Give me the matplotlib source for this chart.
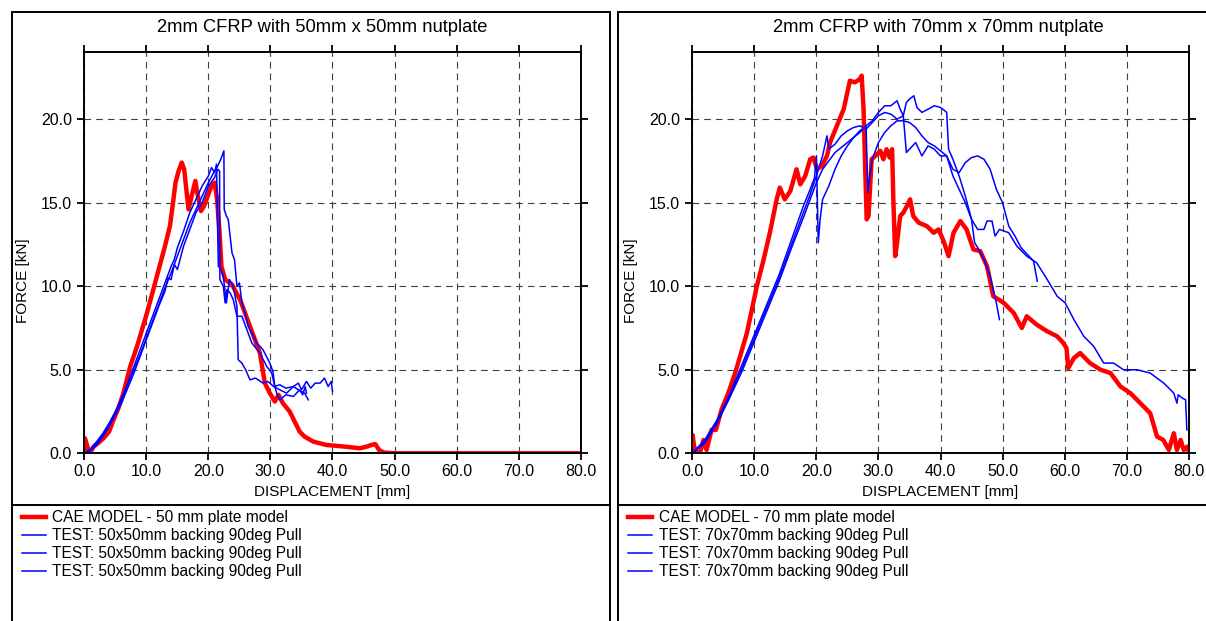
import matplotlib
matplotlib.use("Agg")
import matplotlib.pyplot as plt
from matplotlib.lines import Line2D

plt.rcParams['font.family'] = ['Liberation Sans', 'DejaVu Sans']

# ---- Datos: placa 50 mm ----
cae_50_x = [0, 0.1, 0.5, 0.9, 1.5, 2.2, 3.1, 4.0, 4.7, 5.5, 6.3, 7.4, 8.5, 10.1, 11.7, 13.0,
            13.8, 14.3, 14.7, 15.2, 15.7, 16.1, 16.5, 16.8, 17.3, 17.9, 18.2, 18.8, 19.3, 19.7,
            20.5, 21.0, 21.4, 21.8, 22.1, 22.7, 23.8, 25.1, 26.7, 28.3, 29.1, 29.9, 30.7, 31.3,
            32.0, 33.1, 34.7, 35.5, 36.9, 39.0, 42.0, 44.4, 45.5, 46.3, 46.9, 47.5, 48.2, 50.0,
            60.0, 70.0, 80.0]
cae_50_y = [0.1, 0.9, 0.4, 0.0, 0.4, 0.6, 0.9, 1.3, 2.0, 2.7, 3.6, 5.2, 6.4, 8.4, 10.6, 12.4,
            13.6, 15.0, 16.2, 16.9, 17.4, 17.0, 15.6, 14.6, 15.4, 16.3, 15.6, 14.5, 14.8, 15.2,
            16.0, 16.2, 15.2, 13.2, 11.2, 10.4, 10.1, 9.2, 7.6, 6.0, 4.2, 3.6, 3.1, 3.5,
            3.0, 2.5, 1.3, 1.0, 0.7, 0.5, 0.4, 0.3, 0.4, 0.5, 0.55, 0.2, 0.05, 0.0,
            0.0, 0.0, 0.0]

test_50a_x = [0, 1, 2, 3, 4, 5, 6, 7, 8, 9, 10, 11, 12, 13, 14, 15, 16, 17, 18, 19, 20, 21,
              21.5, 22, 22.5, 22.55, 22.9, 23.2, 23.5, 23.8, 24.2, 24.6, 25.0, 25.4, 25.9, 26.4,
              27.0, 27.8, 28.8, 29.9, 30.4, 30.7, 31.5, 32.5, 33.7, 34.5, 35.0, 35.8, 36.5,
              37.2, 38.0, 38.7, 39.3, 39.8, 40.0]
test_50a_y = [0, 0.2, 0.6, 1.1, 1.7, 2.4, 3.2, 4.1, 5.0, 5.9, 6.9, 7.9, 8.9, 9.9, 10.8, 11.8,
              12.8, 13.8, 14.6, 15.4, 16.2, 16.9, 17.2, 17.6, 18.1, 14.6, 14.2, 14.0, 13.0,
              12.0, 11.6, 10.0, 10.2, 9.0, 8.4, 7.6, 7.2, 6.6, 6.2, 5.4, 4.9, 4.0, 4.1, 3.9,
              4.0, 4.2, 3.8, 4.3, 3.9, 4.2, 4.2, 4.5, 4.0, 4.3, 3.7]

test_50b_x = [0, 1, 2, 3, 4, 5, 6, 7, 8, 9, 10, 11, 12, 13, 14, 14.5, 15, 16, 17, 18, 19, 20,
              20.5, 21.0, 21.3, 21.6, 22.0, 22.4, 22.9, 23.4, 24.0, 24.6, 24.8, 25.4, 26.0,
              26.7, 27.6, 28.8, 29.6, 30.5, 31.5, 32.6, 33.7, 34.5, 35.5, 36.1]
test_50b_y = [0, 0.25, 0.7, 1.2, 1.8, 2.5, 3.3, 4.2, 5.2, 6.2, 7.2, 8.2, 9.2, 10.2, 11.2, 11.6,
              12.3, 13.3, 14.4, 15.2, 16.0, 16.6, 17.1, 16.8, 17.3, 11.2, 11.0, 10.6, 9.0,
              10.4, 10.0, 8.8, 5.6, 5.4, 5.0, 4.4, 4.5, 4.2, 4.3, 4.0, 3.8, 3.6, 4.0, 3.8,
              3.6, 3.2]

test_50c_x = [0, 1, 2, 3, 4, 5, 6, 7, 8, 9, 10, 11, 12, 13, 13.5, 14, 14.5, 15, 16, 17, 18,
              19, 20, 21, 21.5, 21.8, 21.85, 22.4, 22.7, 23.0, 23.5, 24.0, 24.6, 25.4, 26.2,
              27.0, 28.3, 29.4, 30.2, 30.7, 31.0, 31.5, 32.5, 33.7, 34.7, 35.2, 35.6, 35.8]
test_50c_y = [0, 0.15, 0.5, 1.0, 1.6, 2.3, 3.0, 3.9, 4.8, 5.8, 6.8, 7.8, 8.8, 9.7, 10.5, 10.4,
              11.3, 11.0, 12.4, 13.4, 14.4, 15.0, 16.0, 16.5, 17.0, 16.9, 10.4, 10.0, 9.0,
              9.8, 9.6, 9.2, 8.2, 8.2, 7.4, 6.6, 6.0, 5.2, 4.8, 4.0, 3.6, 3.2, 3.5, 3.4,
              3.8, 3.5, 4.0, 3.6]

# ---- Datos: placa 70 mm ----
cae_70_x = [0, 0.05, 0.3, 0.8, 1.3, 1.8, 2.3, 3.1, 3.8, 4.7, 5.8, 6.9, 7.7, 8.8, 9.6, 10.4,
            11.5, 12.5, 13.6, 14.1, 14.9, 15.8, 16.8, 17.4, 18.2, 19.0, 19.5, 20.1, 20.9,
            21.7, 22.2, 23.3, 24.4, 25.4, 26.2, 27.0, 27.3, 27.6, 27.9, 28.1, 28.4, 28.9,
            29.5, 30.3, 30.8, 31.3, 31.8, 32.2, 32.4, 32.7, 33.0, 33.5, 34.0, 34.6, 35.1,
            35.6, 36.5, 37.8, 38.9, 39.7, 40.5, 41.3, 42.1, 43.2, 44.2, 45.3, 46.4, 47.5,
            48.5, 49.4, 50.2, 51.8, 53.1, 53.9, 55.5, 57.2, 58.8, 59.8, 60.3, 60.6, 61.5,
            62.5, 64.1, 65.8, 67.4, 69.0, 70.6, 72.2, 73.8, 74.9, 75.9, 76.8, 77.6, 78.1,
            78.7, 79.2, 79.8, 80.0]
cae_70_y = [0.2, 1.1, 0.4, 0.0, 0.1, 0.8, 0.2, 1.4, 1.4, 2.6, 3.6, 4.8, 5.8, 7.2, 8.6, 10.0,
            11.6, 13.2, 15.2, 15.9, 15.2, 15.7, 17.0, 16.1, 16.6, 17.6, 17.7, 17.0, 17.2,
            17.8, 18.6, 19.6, 20.6, 22.3, 22.2, 22.4, 22.6, 20.6, 16.6, 14.0, 14.2, 17.6,
            17.8, 18.1, 17.6, 18.2, 17.7, 18.2, 15.2, 11.8, 12.6, 14.2, 14.4, 14.8, 15.2,
            14.2, 13.8, 13.6, 13.2, 13.4, 12.7, 11.8, 13.2, 13.9, 13.4, 12.2, 12.1, 11.2,
            9.4, 9.2, 9.0, 8.4, 7.5, 8.2, 7.7, 7.3, 7.0, 6.6, 6.3, 5.1, 5.7,
            6.0, 5.4, 5.0, 4.8, 4.0, 3.6, 3.0, 2.4, 1.0, 0.8, 0.2, 1.2, 0.2,
            0.8, 0.2, 0.4, 0.1]

test_70a_x = [0, 2, 4, 6, 8, 10, 12, 14, 16, 18, 19, 19.7, 20.0, 20.3, 20.6, 21, 22, 23, 24,
              25, 26, 27, 28, 29, 30, 31, 32, 33, 33.5, 34, 34.5, 35, 35.7, 36.2, 37, 38, 39,
              40, 40.7, 41.0, 41.3, 42, 43, 44, 45, 45.5, 46, 47, 48, 49, 49.5]
test_70a_y = [0, 0.8, 2.0, 3.5, 5.3, 7.1, 8.9, 10.7, 12.8, 14.9, 15.8, 16.5, 17.8, 12.6,
              14.0, 15.2, 16.0, 17.0, 17.8, 18.4, 18.9, 19.3, 19.6, 19.9, 20.4, 20.8, 20.8,
              21.1, 20.6, 20.2, 21.0, 21.2, 21.4, 20.7, 20.4, 20.6, 20.8, 20.7, 20.5, 20.4,
              18.2, 17.6, 16.6, 15.4, 14.0, 12.6, 12.3, 11.6, 10.6, 9.0, 8.0]

test_70b_x = [0, 2, 4, 6, 8, 10, 12, 14, 16, 18, 19, 20, 21, 21.7, 22, 23, 24, 25, 26, 27,
              28, 29, 30, 31, 32, 33, 34, 34.5, 35, 36, 37, 38, 39, 40, 41, 42, 43, 44, 45,
              46, 47, 48, 49, 50, 51, 52, 53, 54, 55, 55.6]
test_70b_y = [0, 0.7, 1.9, 3.4, 5.1, 6.9, 8.7, 10.5, 12.5, 14.5, 15.5, 16.6, 17.8, 19.0,
              18.2, 18.5, 19.0, 19.3, 19.5, 19.6, 19.4, 19.8, 20.2, 20.4, 20.3, 20.0, 20.2,
              18.0, 18.2, 18.6, 17.8, 18.4, 18.2, 17.8, 17.8, 17.0, 16.8, 17.4, 17.7, 17.8,
              17.6, 17.0, 15.8, 15.0, 13.6, 13.0, 12.3, 11.9, 11.5, 10.3]

test_70c_x = [0, 2, 4, 6, 8, 10, 12, 14, 16, 18, 19, 20, 21, 22, 23, 24, 25, 26, 27, 27.5,
              28.0, 28.3, 28.6, 29, 30, 31, 32, 33, 34, 35, 36, 37, 38, 39, 40, 41, 42, 43,
              44, 45, 46, 47, 47.5, 48.3, 48.8, 49.5, 51.0, 52.3, 53.9, 55.5, 57.2, 58.8,
              60.1, 61.5, 63.1, 64.7, 66.3, 67.9, 69.5, 71.7, 73.8, 76.0, 77.6, 78.1, 78.3,
              79.0, 79.5, 79.7]
test_70c_y = [0, 0.6, 1.8, 3.3, 4.9, 6.7, 8.5, 10.3, 12.3, 14.2, 15.2, 16.2, 17.0, 17.5,
              18.0, 18.3, 18.6, 18.9, 19.2, 19.4, 19.6, 15.6, 16.6, 17.6, 18.6, 19.2, 19.6,
              19.9, 19.9, 19.8, 19.5, 19.0, 18.6, 18.4, 18.1, 17.8, 16.6, 15.8, 15.0, 14.0,
              13.4, 13.4, 13.9, 13.9, 13.0, 13.4, 13.2, 12.4, 11.8, 11.4, 10.4, 9.4, 9.0,
              8.0, 7.0, 6.4, 5.4, 5.4, 5.0, 5.0, 4.8, 4.2, 3.6, 3.0, 3.5, 3.3, 3.2, 1.4]

x_ticks = [0, 10, 20, 30, 40, 50, 60, 70, 80]
y_ticks = [0, 5, 10, 15, 20]

W, H = 1206, 621
fig = plt.figure(figsize=(W / 100, H / 100), dpi=100)


def px(x, y):
    # convierte pixeles (origen arriba-izquierda) a fraccion de figura
    return x / W, 1 - y / H


def panel(left_px, title, title_x, cae, tests, cae_label, test_label, box):
    ax = fig.add_axes([left_px / W, (H - 453.3) / H, 496.4 / W, 401 / H])
    ax.plot(cae[0], cae[1], color='#ff0000', lw=3.2, label=cae_label, solid_joinstyle='round')
    for tx, ty in tests:
        ax.plot(tx, ty, color='#0000ff', lw=1.1, label=test_label)
    ax.set_xlim(0, 80)
    ax.set_ylim(0, 24)
    ax.set_xticks(x_ticks)
    ax.set_xticklabels([f"{v:.1f}" for v in x_ticks])
    ax.set_yticks(y_ticks)
    ax.set_yticklabels([f"{v:.1f}" for v in y_ticks])
    ax.tick_params(direction='out', length=5, width=1.3, top=True, right=True,
                   labelsize=11.5, colors='black')
    ax.tick_params(axis='x', pad=3)
    ax.tick_params(axis='y', pad=4)
    for s in ax.spines.values():
        s.set_linewidth(1.4)
    ax.grid(True, color='#404040', lw=0.8, linestyle=(0, (6, 4.5)))
    ax.set_xlabel("DISPLACEMENT [mm]", fontsize=11)
    ax.set_ylabel("FORCE [kN]", fontsize=11)
    ax.xaxis.set_label_coords(0.5, -0.078)
    ax.yaxis.set_label_coords(-0.109, 0.43)
    fig.text(*px(title_x, 27), title, ha='center', va='center', fontsize=13.2)

    # leyenda debajo del grafico
    ax.legend(loc='upper left', bbox_to_anchor=px(box[0] + 10, 510),
              bbox_transform=fig.transFigure, frameon=False, fontsize=11.2,
              borderpad=0, borderaxespad=0, handlelength=1.55, handletextpad=0.4,
              labelspacing=0.2)

    # marco del panel y linea separadora
    x0, x1 = box
    for xs, ys in [([x0, x1], [12.3, 12.3]), ([x0, x0], [12.3, 630]),
                   ([x1, x1], [12.3, 630]), ([x0, x1], [505, 505])]:
        fx = [v / W for v in xs]
        fy = [1 - v / H for v in ys]
        fig.add_artist(Line2D(fx, fy, color='black', lw=1.4, transform=fig.transFigure))
    return ax


panel(84.3, "2mm CFRP with 50mm x 50mm nutplate", 322, (cae_50_x, cae_50_y),
      [(test_50a_x, test_50a_y), (test_50b_x, test_50b_y), (test_50c_x, test_50c_y)],
      "CAE MODEL - 50 mm plate model", "TEST: 50x50mm backing 90deg Pull", (11.7, 610))
panel(692.3, "2mm CFRP with 70mm x 70mm nutplate", 938, (cae_70_x, cae_70_y),
      [(test_70a_x, test_70a_y), (test_70b_x, test_70b_y), (test_70c_x, test_70c_y)],
      "CAE MODEL - 70 mm plate model", "TEST: 70x70mm backing 90deg Pull", (618.3, 1212))

fig.savefig("out.png", dpi=100)
